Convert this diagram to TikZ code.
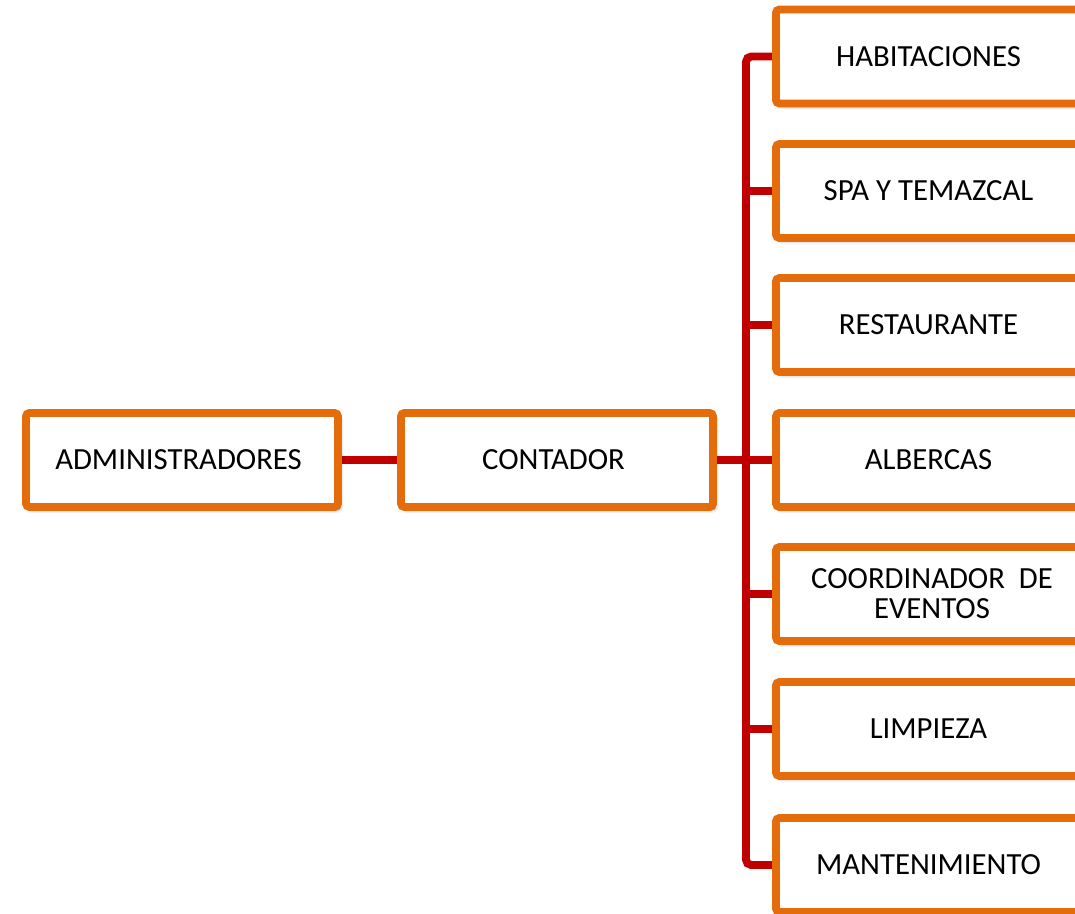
\documentclass[tikz,border=0pt]{standalone}
\usepackage{fontspec}
\setmainfont{Carlito}
\usepackage{tikz}
\usetikzlibrary{backgrounds,shadows.blur}

\definecolor{boxorange}{RGB}{228,108,10}
\definecolor{linkred}{RGB}{192,0,0}

\begin{document}
\begin{tikzpicture}[x=0.02cm,y=-0.02cm,
                every node/.style={draw=boxorange,line width=4.5pt,fill=white,
                  rounded corners=2pt,minimum width=6.24cm,minimum height=1.88cm,
                  align=center,font=\fontsize{17.5}{17}\selectfont,
                  blur shadow={shadow blur steps=6,shadow xshift=1.5pt,shadow yshift=-1.8pt,shadow opacity=35}},
                link/.style={draw=linkred,line width=4.5pt,rounded corners=3pt}]
  \useasboundingbox (0,0) rectangle (1075,913);
  \clip (0,0) rectangle (1075,913);
  \node            (adm) at (182,460)  { ADMINISTRADORES };
  \node            (cont) at (557,460)  { CONTADOR };
  \node            (hab) at (932,56.5)  { HABITACIONES };
  \node            (spa) at (932,191)  { SPA Y TEMAZCAL };
  \node            (rest) at (932,325)  { RESTAURANTE };
  \node            (alb) at (932,460)  { ALBERCAS };
  \node            (coord) at (932,594)  { COORDINADOR\ \ DE\\EVENTOS };
  \node            (limp) at (932,729)  { LIMPIEZA };
  \node            (mant) at (932,865)  { MANTENIMIENTO };
  \coordinate      (bus) at (746,460);
  \begin{scope}[on background layer]
  \draw[link] (adm) -- (cont);
  \draw[link] (cont) -- (alb);
  \draw[link] (hab.west) -| (bus) |- (mant.west);
  \draw[link] (bus |- spa.west) -- (spa.west);
  \draw[link] (bus |- rest.west) -- (rest.west);
  \draw[link] (bus |- coord.west) -- (coord.west);
  \draw[link] (bus |- limp.west) -- (limp.west);
  \end{scope}
\end{tikzpicture}
\end{document}
